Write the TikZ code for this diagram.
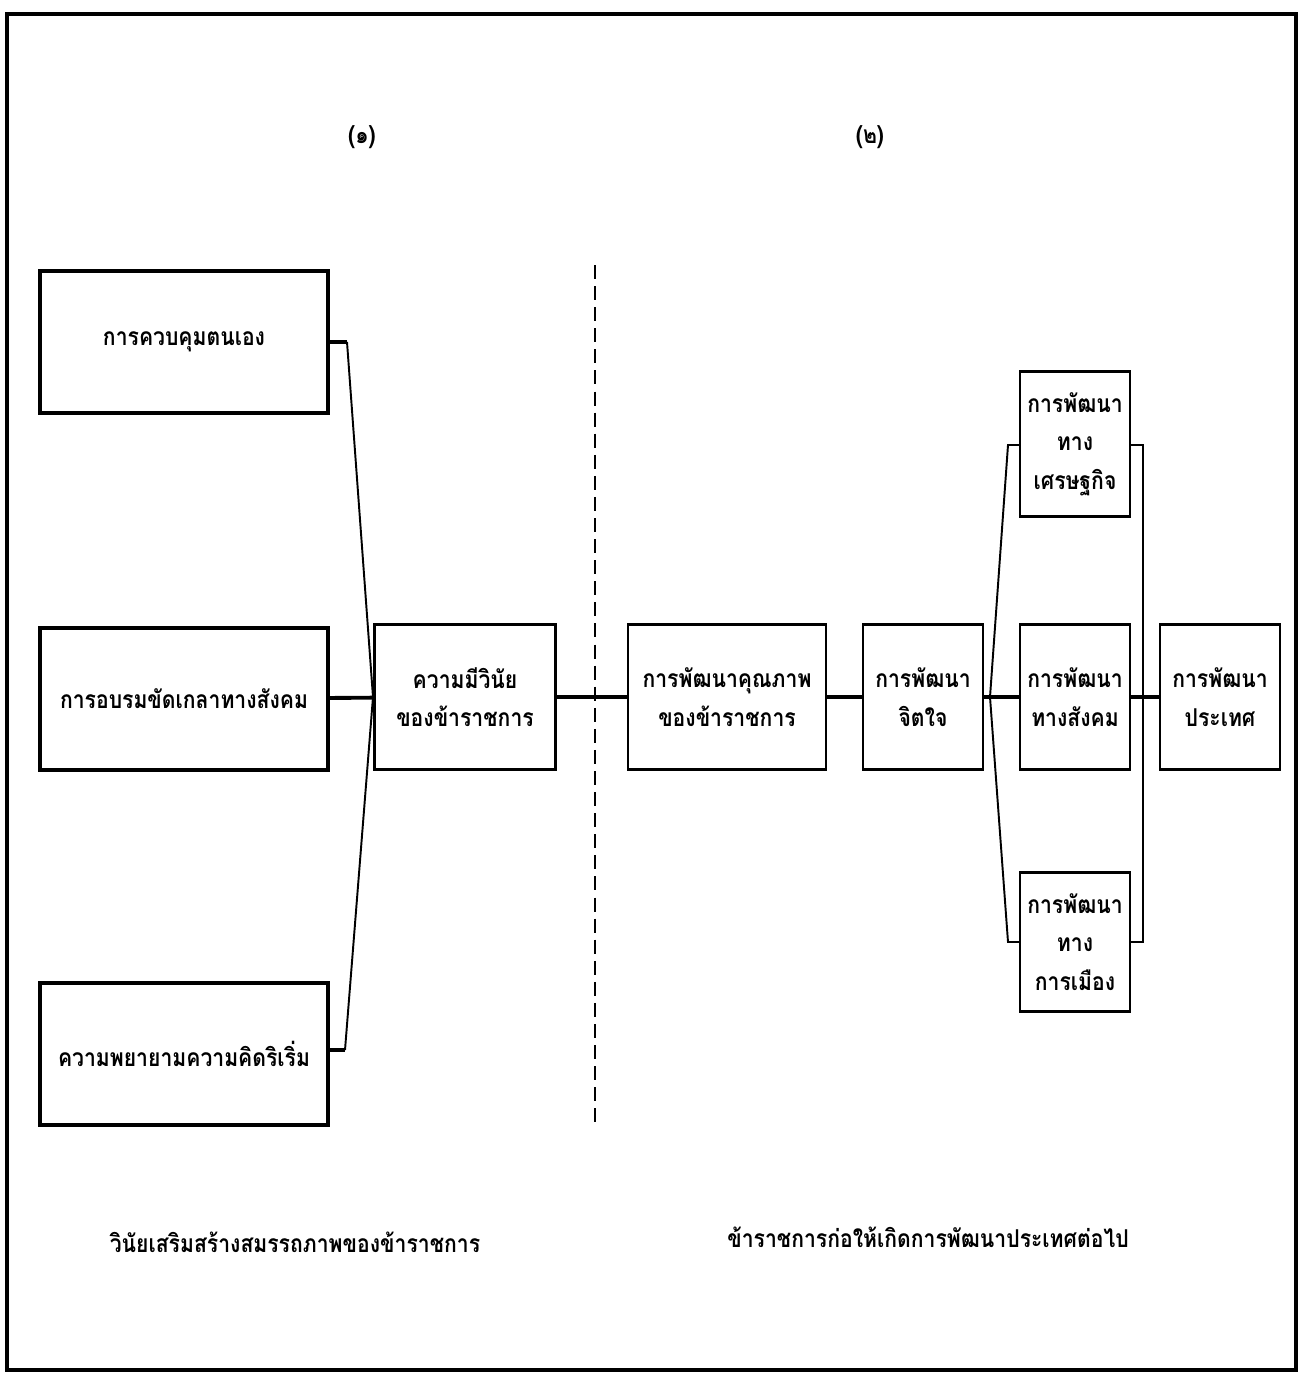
\documentclass[tikz,border=0pt]{standalone}
\usepackage{fontspec}
\usepackage{tikz}
\usetikzlibrary{calc, positioning}
\newfontfamily\thaifont[Script=Thai, FakeStretch=0.86]{Loma}

\begin{document}
\begin{tikzpicture}[x=0.02cm, y=-0.02cm,
    font=\thaifont\bfseries\fontsize{14}{22}\selectfont,
    leftbox/.style={draw, line width=2.2pt, minimum width=5.76cm, minimum height=2.84cm, align=center, inner sep=0pt},
    midbox/.style={draw, line width=1.3pt, minimum height=2.9cm, align=center, inner sep=0pt},
    link/.style={line width=2.2pt},
    thinlink/.style={line width=1.1pt}]
  \useasboundingbox (0,0) rectangle (1301,1375);
  \draw[line width=2.8pt] (7,14) rectangle (1296,1370);
  % ---- headings ----
  \node (headA) at (362,137) {(๑)};
  \node (headB) at (870,137) {(๒)};
  % ---- part (1): discipline ----
  \node[leftbox] (self) at (184,342) {การควบคุมตนเอง};
  \node[leftbox] (social) at (184,699) {การอบรมขัดเกลาทางสังคม};
  \node[leftbox] (effort) at (184,1054) {ความพยายามความคิดริเริ่ม};
  \node[midbox, minimum width=3.62cm] (disc) at (465,697) {ความมีวินัย\\ของข้าราชการ};
  \coordinate (join) at (373,697);
  \coordinate (selfend) at (347,342);
  \coordinate (effortend) at (345,1050);
  \draw[link] (self.east|-selfend) -- (selfend);
  \draw[link] (effort.east|-effortend) -- (effortend);
  \draw[thinlink] (selfend) -- (join) -- (effortend);
  \draw[link] (social) -- (disc);
  \draw[line width=1pt, dash pattern=on 8pt off 4pt] (595,265) -- (595,1128);
  % ---- part (2): development ----
  \node[midbox, minimum width=3.96cm] (quality) at (727,697) {การพัฒนาคุณภาพ\\ของข้าราชการ};
  \node[midbox, minimum width=2.4cm] (mind) at (923,697) {การพัฒนา\\จิตใจ};
  \node[midbox, minimum width=2.2cm] (econ) at (1075,444) {การพัฒนา\\ทาง\\เศรษฐกิจ};
  \node[midbox, minimum width=2.2cm] (soc) at (1075,697) {การพัฒนา\\ทางสังคม};
  \node[midbox, minimum width=2.2cm, minimum height=2.78cm] (pol) at (1075,942) {การพัฒนา\\ทาง\\การเมือง};
  \node[midbox, minimum width=2.4cm] (nation) at (1220,697) {การพัฒนา\\ประเทศ};
  \draw[link] (disc) -- (quality);
  \draw[link] (quality) -- (mind);
  \coordinate (fork) at (990,697);
  \coordinate (forkup) at (1008,445);
  \coordinate (forkdown) at (1008,942);
  \draw[link] (mind) -- (soc);
  \draw[thinlink] (fork) -- (forkup) -- (econ.west|-forkup);
  \draw[thinlink] (fork) -- (forkdown) -- (pol.west|-forkdown);
  \coordinate (rightup) at (1143,445);
  \coordinate (rightdown) at (1143,942);
  \draw[thinlink] (econ.east|-rightup) -- (rightup) -- (rightdown) -- (pol.east|-rightdown);
  \draw[link] (soc) -- (nation);
  % ---- captions ----
  \node (capA) at (295,1242) {วินัยเสริมสร้างสมรรถภาพของข้าราชการ};
  \node (capB) at (928,1237) {ข้าราชการก่อให้เกิดการพัฒนาประเทศต่อไป};
\end{tikzpicture}
\end{document}
